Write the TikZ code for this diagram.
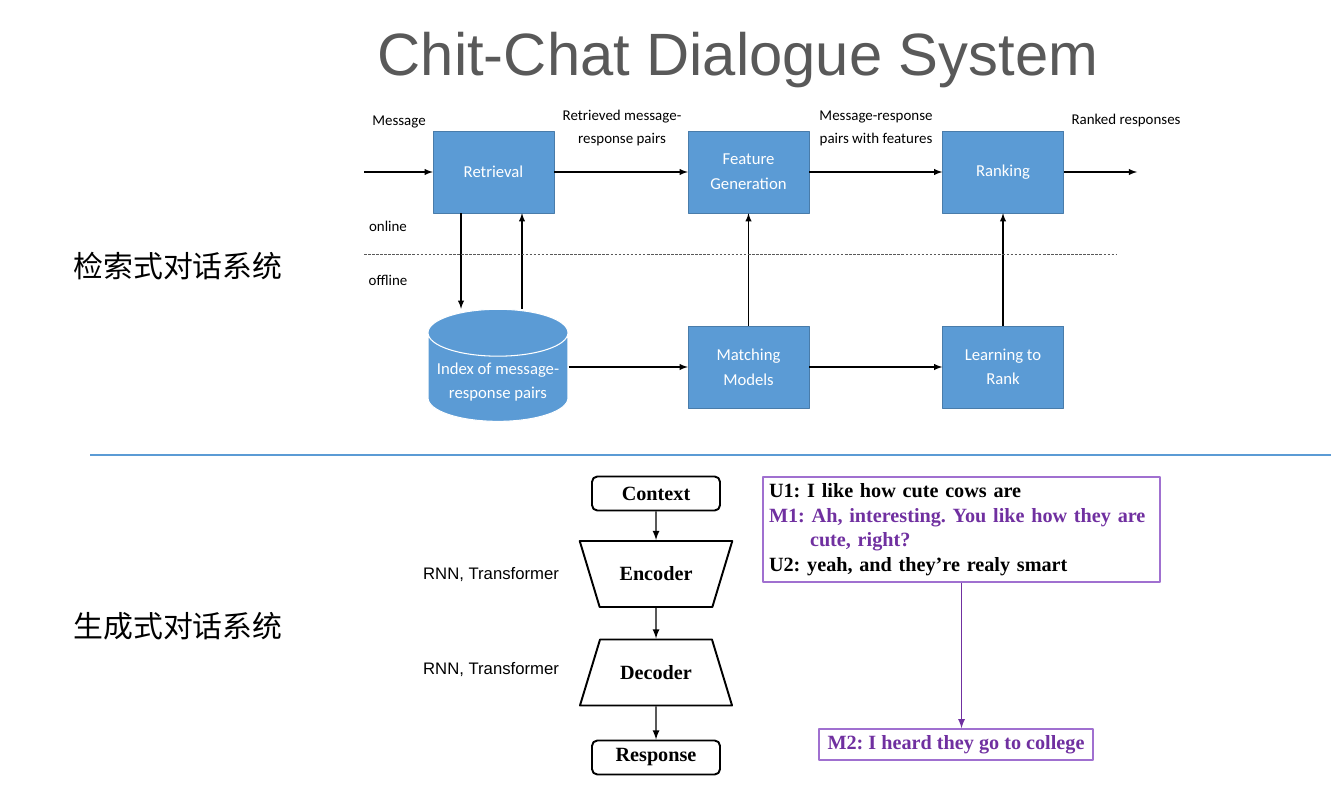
\documentclass[tikz,border=0pt]{standalone}
\usepackage{fontspec}
\usetikzlibrary{shapes.geometric}
\newfontfamily\califont{Carlito}
\newfontfamily\arialfont{Liberation Sans}
\newfontfamily\timesfont{Liberation Serif}
\newfontfamily\cjkfont{Noto Sans CJK SC}
\definecolor{boxblue}{RGB}{91,155,213}
\definecolor{dlgpurple}{RGB}{112,48,160}
\definecolor{dlgline}{RGB}{160,112,208}
\definecolor{titlegray}{RGB}{89,89,89}
\begin{document}
\frenchspacing
\begin{tikzpicture}[x=0.02cm,y=-0.02cm,>=latex,line join=round,
	blk/.style={fill=boxblue,draw=boxblue!80!black,line width=0.3pt,text=white,minimum width=2.42cm,minimum height=1.64cm,align=center,font=\califont\fontsize{9.5}{14}\selectfont},
	db/.style={cylinder,shape border rotate=90,aspect=0.35,cylinder uses custom fill,cylinder body fill=boxblue,cylinder end fill=boxblue,draw=white,line width=0.6pt,text=white,minimum width=2.8cm,minimum height=2.05cm,align=center,font=\califont\fontsize{9.5}{14}\selectfont},
	lbl/.style={align=center,font=\califont\fontsize{8.5}{13}\selectfont},
	cnlbl/.style={font=\cjkfont\fontsize{17}{20}\selectfont},
	arr/.style={->,line width=0.6pt},
	tbox/.style={draw,line width=1.1pt,rounded corners=3pt,minimum width=2.56cm,minimum height=0.68cm,font=\timesfont\bfseries\fontsize{11.5}{14}\selectfont},
	trap/.style={draw,trapezium,trapezium stretches=true,line width=1.1pt,minimum width=3.06cm,minimum height=1.32cm,font=\timesfont\bfseries\fontsize{11.5}{14}\selectfont},
	rnn/.style={font=\arialfont\fontsize{9.5}{11}\selectfont},
	pbox/.style={draw=dlgline,line width=0.8pt,font=\timesfont\bfseries\fontsize{11.5}{14}\selectfont},
	parr/.style={->,line width=0.8pt,draw=dlgpurple}]
	\useasboundingbox (0,0) rectangle (1331,797);
	\node[font=\arialfont\fontsize{34}{40}\selectfont,text=titlegray] (title) at (738,60) {Chit-Chat Dialogue System};
	% retrieval based
	\node[blk] (retr) at (493.5,172) {Retrieval};
	\node[blk] (feat) at (748.5,172) {Feature\\Generation};
	\node[blk] (rank) at (1003,172) {Ranking};
	\node[db] (index) at (498,382) {Index of message-\\response pairs};
	\node[blk] (match) at (748.5,367) {Matching\\Models};
	\node[blk] (ltr) at (1003,367) {Learning to\\Rank};
	\coordinate (in) at (364,172);
	\coordinate (out) at (1137,172);
	\draw[arr] (in) -- (retr);
	\draw[arr] (retr) -- (feat);
	\draw[arr] (feat) -- (rank);
	\draw[arr] (rank) -- (out);
	\draw[arr] ([xshift=-0.65cm]retr.south) -- ([xshift=-0.65cm]retr.south |- index.north);
	\draw[arr] ([xshift=0.57cm]retr.south |- index.north) -- ([xshift=0.57cm]retr.south);
	\draw[arr] (match -| index.east) -- (match);
	\draw[arr] (match) -- (feat);
	\draw[arr] (match) -- (ltr);
	\draw[arr] (ltr) -- (rank);
	\node[lbl] (msg) at (399,122) {Message};
	\node[lbl] (rmp) at (622,128) {Retrieved message-\\response pairs};
	\node[lbl] (mrf) at (876,128) {Message-response\\pairs with features};
	\node[lbl] (rr) at (1126,121) {Ranked responses};
	\node[lbl] (on) at (388,226) {online};
	\node[lbl] (off) at (388,280) {offline};
	\coordinate (dl) at (364,254);
	\coordinate (dr) at (1117,254);
	\draw[gray!70!black,line width=0.5pt,dash pattern=on 1.5pt off 0.8pt] (dl) -- (dr);
	\node[cnlbl] (cn1) at (178,266) {检索式对话系统};
	\node[cnlbl] (cn2) at (178,626) {生成式对话系统};
	\coordinate (sepl) at (90,455);
	\coordinate (sepr) at (1331,455);
	\draw[boxblue,line width=1.7pt] (sepl) -- (sepr);
	% generation based
	\node[tbox] (ctx) at (656,493.5) {Context};
	\node[trap,shape border rotate=180] (enc) at (656,574) {Encoder};
	\node[trap] (dec) at (656,672.5) {Decoder};
	\node[tbox] (resp) at (656,757.5) {Response};
	\draw[arr,line width=0.8pt] (ctx) -- (enc);
	\draw[arr,line width=0.8pt] (enc) -- (dec);
	\draw[arr,line width=0.8pt] (dec) -- (resp);
	\node[rnn] (rnn1) at (491,575) {RNN, Transformer};
	\node[rnn] (rnn2) at (491,670) {RNN, Transformer};
	\node[pbox,text width=7.7cm,inner xsep=0.12cm,minimum height=2.1cm,align=left] (dlg) at (961.5,529.5)
		{U1: I like how cute cows are\\
		\textcolor{dlgpurple}{M1: Ah, interesting. You like how they are}\\
		\hspace*{0.82cm}\textcolor{dlgpurple}{cute, right?}\\
		U2: yeah, and they’re realy smart};
	\node[pbox,text=dlgpurple,minimum width=5.48cm,minimum height=0.62cm] (m2) at (956,744.5) {M2: I heard they go to college};
	\draw[parr] (dlg.south) -- (dlg.south |- m2.north);
\end{tikzpicture}
\end{document}
